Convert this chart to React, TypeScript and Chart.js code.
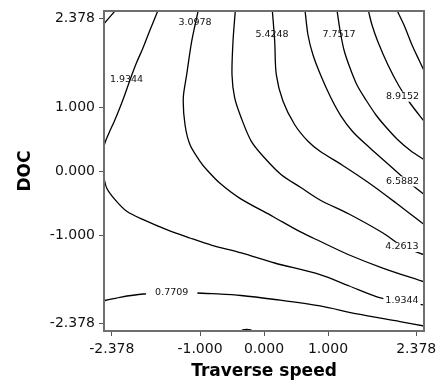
import React, { useEffect, useRef } from "react";
import { Chart, registerables } from "chart.js";

Chart.register(...registerables);

// ---- axis ticks ----
const xTickValues = [-2.378, -1, 0, 1, 2.378];
const yTickValues = [-2.378, -1, 0, 1, 2.378];
const xTitle = "Traverse speed";
const yTitle = "DOC";

// ---- contour lines (Traverse speed, DOC) ----
const contour0771a: [number, number][] = [
  [-2.51, 2.29], [-2.32, 2.51],
];
const contour0771b: [number, number][] = [
  [-2.51, -2.03], [-2.25, -1.973], [-1.886, -1.922], [-1.453, -1.906], [-1.078, -1.906],
  [-0.8125, -1.917], [-0.359, -1.945], [0.172, -2.008], [0.875, -2.109], [1.453, -2.234],
  [2.125, -2.352], [2.51, -2.424],
];
const contour0771c: [number, number][] = [
  [-0.36, -2.51], [-0.33, -2.486], [-0.27, -2.48], [-0.21, -2.486], [-0.18, -2.51],
];
const contour1934a: [number, number][] = [
  [-1.656, 2.51], [-1.781, 2.203], [-1.891, 1.922], [-2.0, 1.672], [-2.094, 1.422],
  [-2.188, 1.156], [-2.266, 0.953], [-2.344, 0.766], [-2.422, 0.594], [-2.469, 0.484],
  [-2.51, 0.36],
];
const contour1934b: [number, number][] = [
  [-2.51, -0.06], [-2.458, -0.266], [-2.328, -0.448], [-2.145, -0.63], [-1.886, -0.761],
  [-1.52, -0.917], [-1.156, -1.047], [-0.8125, -1.161], [-0.355, -1.281], [0.167, -1.4375],
  [0.875, -1.62], [1.333, -1.797], [1.777, -1.969], [2.156, -2.047], [2.51, -2.094],
];
const contour3098: [number, number][] = [
  [-1.027, 2.51], [-1.13, 2.027], [-1.208, 1.505], [-1.261, 1.141], [-1.234, 0.723],
  [-1.156, 0.411], [-1.0, 0.152], [-0.891, 0.016], [-0.6875, -0.192], [-0.375, -0.427],
  [0.145, -0.714], [0.5625, -0.948], [0.875, -1.098], [1.333, -1.3125], [1.855, -1.516],
  [2.51, -1.736],
];
const contour4261: [number, number][] = [
  [-0.448, 2.51], [-0.484, 2.031], [-0.5, 1.505], [-0.458, 1.141], [-0.355, 0.828],
  [-0.198, 0.464], [0.011, 0.203], [0.27, -0.058], [0.5625, -0.25], [0.875, -0.453],
  [1.328, -0.672], [1.859, -0.969], [2.156, -1.172], [2.51, -1.3125],
];
const contour5425: [number, number][] = [
  [0.13, 2.51], [0.167, 2.027], [0.192, 1.505], [0.297, 1.089], [0.48, 0.723],
  [0.6875, 0.464], [0.875, 0.308], [1.219, 0.094], [1.641, -0.1875], [2.063, -0.5],
  [2.51, -0.844],
];
const contour6588: [number, number][] = [
  [0.641, 2.51], [0.6875, 2.125], [0.766, 1.8125], [0.891, 1.484], [1.047, 1.141],
  [1.203, 0.859], [1.391, 0.609], [1.656, 0.359], [1.9375, 0.109], [2.219, -0.141],
  [2.51, -0.375],
];
const contour7752: [number, number][] = [
  [1.141, 2.51], [1.1875, 2.203], [1.25, 1.891], [1.344, 1.609], [1.453, 1.344],
  [1.594, 1.109], [1.75, 0.875], [1.891, 0.703], [2.094, 0.484], [2.297, 0.3125],
  [2.51, 0.17],
];
const contour8915: [number, number][] = [
  [1.63, 2.51], [1.6875, 2.281], [1.781, 2.016], [1.9375, 1.656], [2.109, 1.328],
  [2.281, 1.0625], [2.51, 0.766],
];
const contour10079: [number, number][] = [
  [2.078, 2.51], [2.1875, 2.281], [2.3125, 1.969], [2.422, 1.734], [2.51, 1.547],
];

const contours = [
  contour0771a, contour0771b, contour0771c, contour1934a, contour1934b, contour3098,
  contour4261, contour5425, contour6588, contour7752, contour8915, contour10079,
];

// ---- contour labels ----
const labelTexts = ["0.7709", "1.9344", "3.0978", "5.4248", "7.7517", "8.9152", "6.5882", "4.2613", "1.9344"];
const labelX = [-1.442, -2.148, -1.078, 0.125, 1.172, 2.164, 2.164, 2.156, 2.156];
const labelY = [-1.906, 1.422, 2.3125, 2.13, 2.13, 1.161, -0.164, -1.1875, -2.031];

// styling for label background gaps (px)
const labelGaps = [9, 0, 0, 0, 0, 2, 2, 2, 2];

const FONT = "'DejaVu Sans', Verdana, sans-serif";

const overlayPlugin = {
  id: "overlay",
  afterDraw(chart: any) {
    const { ctx, chartArea: a, scales } = chart;
    ctx.save();
    ctx.font = `9.5px ${FONT}`;
    ctx.textAlign = "center";
    ctx.textBaseline = "middle";
    labelTexts.forEach((t, i) => {
      const px = scales.x.getPixelForValue(labelX[i]);
      const py = scales.y.getPixelForValue(labelY[i]);
      const w = ctx.measureText(t).width;
      const g = labelGaps[i];
      if (g > 0) {
        ctx.fillStyle = "#ffffff";
        ctx.fillRect(px - w / 2 - g, py - 5, w + 2 * g, 10);
      }
      ctx.fillStyle = "#111111";
      ctx.fillText(t, px, py);
    });
    ctx.strokeStyle = "#6e6e6e";
    ctx.lineWidth = 2;
    ctx.strokeRect(a.left, a.top, a.right - a.left, a.bottom - a.top);
    ctx.restore();
  },
};

export default function App() {
  const ref = useRef<HTMLCanvasElement | null>(null);

  useEffect(() => {
    if (!ref.current) return;
    Chart.defaults.font.family = FONT;
    const chart = new Chart(ref.current, {
      type: "scatter",
      data: {
        datasets: contours.map((c, i) => ({
          label: "c" + i,
          data: c.map(([x, y]) => ({ x, y })),
          showLine: true,
          borderColor: "#000000",
          borderWidth: i === 2 ? 2 : 1.3,
          pointRadius: 0,
          tension: 0.3,
          fill: false,
        })),
      },
      options: {
        animation: false,
        responsive: false,
        devicePixelRatio: 1,
        events: [],
        layout: { padding: { left: 0, right: 15, top: 11, bottom: 0 } },
        plugins: { legend: { display: false }, tooltip: { enabled: false } },
        scales: {
          x: {
            type: "linear",
            min: -2.5,
            max: 2.5,
            afterBuildTicks: (s: any) => {
              s.ticks = xTickValues.map((v) => ({ value: v }));
            },
            afterFit: (s: any) => {
              s.height = 52;
              s.paddingLeft = 0;
              s.paddingRight = 0;
            },
            ticks: {
              callback: (v: any) => Number(v).toFixed(3),
              font: { family: FONT, size: 14 },
              color: "#111111",
              padding: 5,
              maxRotation: 0,
              autoSkip: false,
            },
            grid: { drawOnChartArea: false, tickLength: 5, tickColor: "#555555", tickWidth: 1 },
            border: { display: false },
            title: {
              display: true,
              text: xTitle,
              font: { family: FONT, size: 17, weight: "bold" },
              color: "#000000",
              padding: { top: 0, bottom: 1 },
            },
          },
          y: {
            type: "linear",
            min: -2.5,
            max: 2.5,
            afterBuildTicks: (s: any) => {
              s.ticks = yTickValues.map((v) => ({ value: v }));
            },
            afterFit: (s: any) => {
              s.width = 104;
              s.paddingTop = 0;
              s.paddingBottom = 0;
            },
            ticks: {
              callback: (v: any) => Number(v).toFixed(3),
              font: { family: FONT, size: 14 },
              color: "#111111",
              padding: 4,
              autoSkip: false,
            },
            grid: { drawOnChartArea: false, tickLength: 5, tickColor: "#555555", tickWidth: 1 },
            border: { display: false },
            title: {
              display: true,
              text: yTitle,
              font: { family: FONT, size: 17, weight: "bold" },
              color: "#000000",
              padding: { top: 15, bottom: 0 },
            },
          },
        },
      },
      plugins: [overlayPlugin],
    } as any);
    return () => chart.destroy();
  }, []);

  return (
    <div style={{ position: "fixed", left: 0, top: 0, width: 439, height: 383, background: "#fff" }}>
      <canvas ref={ref} width={439} height={383} style={{ width: 439, height: 383 }} />
    </div>
  );
}
